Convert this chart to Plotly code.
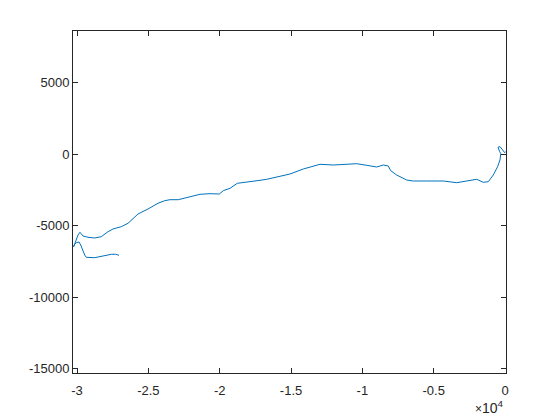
import plotly.graph_objects as go

# Path (data units)
x_vals = [-27059, -27300, -27598, -28299, -28762, -29351, -29463, -29743, -29863, -30052,
          -30213, -30234, -30122, -29933, -29793, -29582, -29232, -28762, -28299, -27830,
          -27479, -26897, -26428, -25727, -25026, -24325, -23855, -23484, -22902, -22082,
          -21381, -20680, -20028, -19747, -19278, -18766, -18107, -17175, -16705, -15072,
          -14139, -12969, -12036, -10866, -10396, -9695, -8994, -8531, -8181, -8012,
          -7592, -6891, -6428, -5489, -4325, -3386, -2685, -1984, -1521, -1171,
          -820, -520, -350, -300, -380, -490, -350, -140, -20, 60]
y_vals = [-7073, -7000, -7003, -7122, -7241, -7213, -7052, -6352, -6142, -6191,
          -6352, -6471, -6121, -5651, -5462, -5721, -5812, -5861, -5770, -5420,
          -5231, -5070, -4832, -4181, -3831, -3431, -3249, -3179, -3179, -2969,
          -2801, -2759, -2780, -2549, -2381, -2031, -1961, -1821, -1751, -1380,
          -1029, -700, -749, -700, -658, -770, -889, -749, -819, -1148,
          -1450, -1800, -1870, -1870, -1870, -1989, -1870, -1751, -1961, -1919,
          -1450, -868, -400, 50, 200, 490, 540, 250, 110, 200]

x_ticks = [-30000, -25000, -20000, -15000, -10000, -5000, 0]
x_tick_labels = ["-3", "-2.5", "-2", "-1.5", "-1", "-0.5", "0"]
y_ticks = [5000, 0, -5000, -10000, -15000]
y_tick_labels = ["5000", "0", "-5000", "-10000", "-15000"]

ink = "#262626"
font = dict(family="Liberation Sans, Arial, sans-serif", size=13, color=ink)

fig = go.Figure()
fig.add_trace(go.Scatter(x=x_vals, y=y_vals, mode="lines",
                         line=dict(color="#0072BD", width=1), showlegend=False,
                         hoverinfo="skip"))

axis_common = dict(showgrid=False, zeroline=False, showline=True, mirror="ticks",
                   linecolor=ink, linewidth=1, ticks="inside", ticklen=5,
                   tickcolor=ink, tickwidth=1, tickfont=font)

fig.update_layout(
    width=560, height=420,
    margin=dict(l=65, r=62, t=23, b=55),
    paper_bgcolor="white", plot_bgcolor="white",
    font=font,
    xaxis=dict(range=[-30283, 70], tickvals=x_ticks, ticktext=x_tick_labels,
               ticklabelstandoff=5, **axis_common),
    yaxis=dict(range=[-15316, 8635], tickvals=y_ticks, ticktext=y_tick_labels,
               **axis_common),
    annotations=[dict(text="<span style='font-size:12px'>×</span>10<sup>4</sup>",
                      xref="paper", yref="paper",
                      x=1.0, y=-0.098, xanchor="right", yanchor="middle",
                      showarrow=False,
                      font=dict(family=font["family"], size=14, color=ink))],
)

fig.write_html("out.html")
